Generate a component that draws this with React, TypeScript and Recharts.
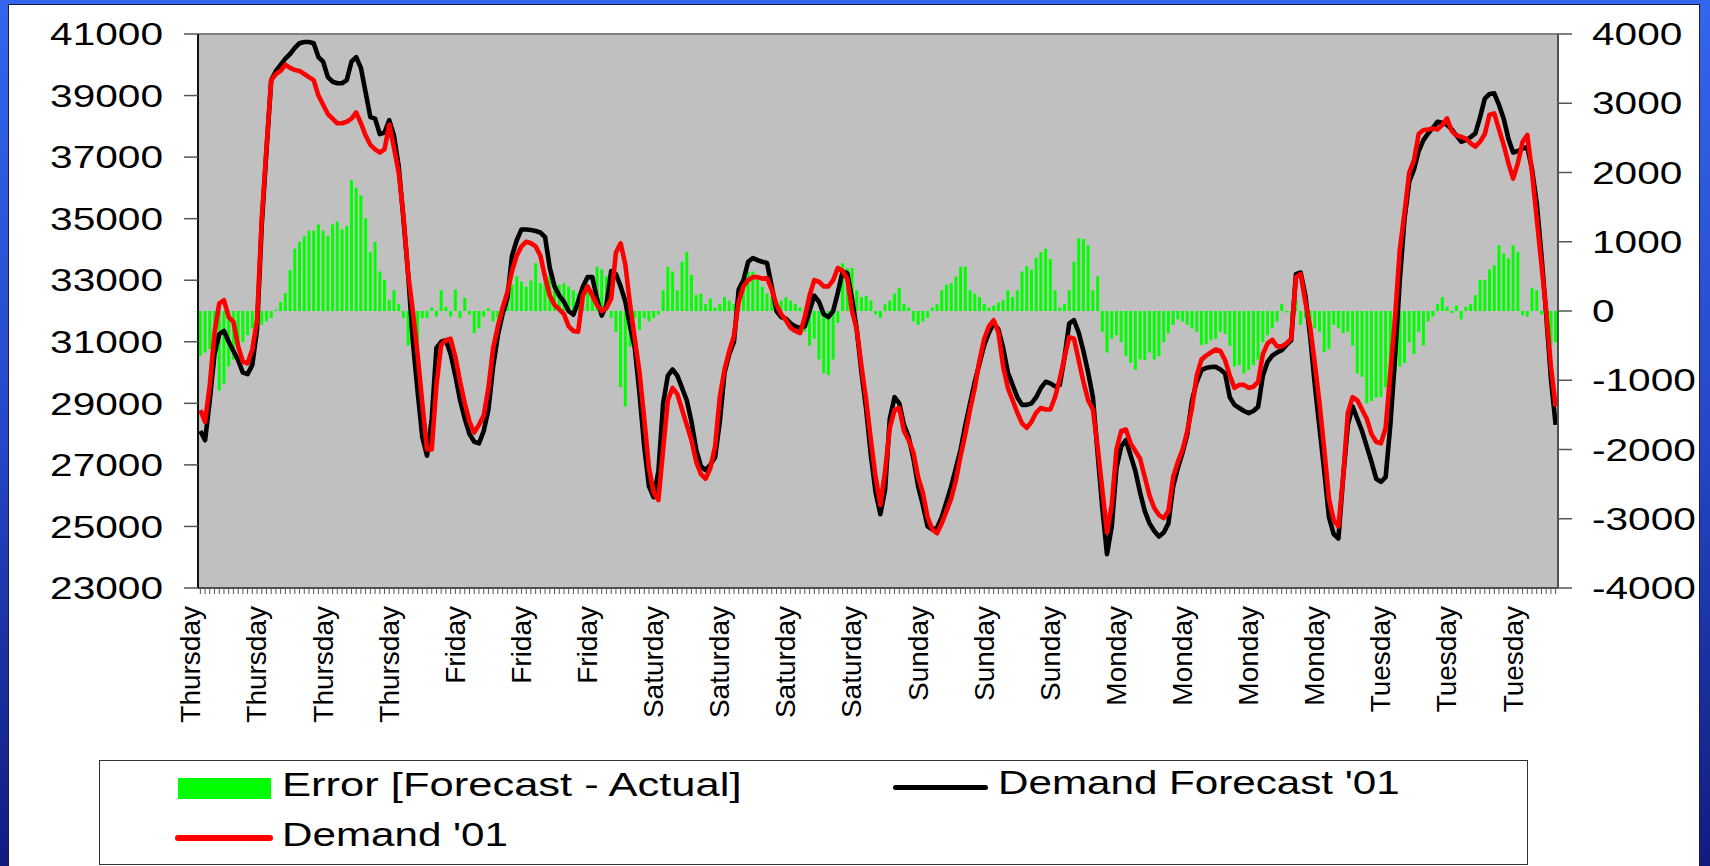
import { ComposedChart, Bar, Line, XAxis, YAxis, CartesianGrid, ReferenceLine } from "recharts";

// half-hourly slots, Thursday 00:00 -> Tuesday 23:30, a label every 7 hours
const tickLabels = [
  "Thursday", "Thursday", "Thursday", "Thursday",
  "Friday", "Friday", "Friday",
  "Saturday", "Saturday", "Saturday", "Saturday",
  "Sunday", "Sunday", "Sunday",
  "Monday", "Monday", "Monday", "Monday",
  "Tuesday", "Tuesday", "Tuesday",
];
const LABEL_STEP = 14;

const leftTicks = [23000, 25000, 27000, 29000, 31000, 33000, 35000, 37000, 39000, 41000];
const rightTicks = [-4000, -3000, -2000, -1000, 0, 1000, 2000, 3000, 4000];

// Demand '01 (MW)
const demand = [
  28780, 28400, 29600, 31300, 32250, 32350, 31800, 31650, 30850, 30350, 30300, 30750,
  31700, 35000, 37300, 39500, 39700, 39800, 40000, 39900, 39830, 39800, 39700, 39600,
  39500, 39000, 38700, 38400, 38250, 38100, 38100, 38150, 38250, 38450, 38100, 37700,
  37400, 37250, 37150, 37250, 38050, 37300, 36500, 35100, 33200, 32000, 30600, 29000,
  27500, 27500, 29600, 30900, 31050, 31100, 30500, 29700, 29000, 28400, 28050, 28300,
  28600, 29500, 30800, 31500, 32100, 32600, 33300, 33800, 34100, 34250, 34200, 34100,
  33800, 33100, 32500, 32200, 32050, 31900, 31500, 31350, 31330, 32500, 32800, 32500,
  32200, 32000, 32100, 32400, 33900, 34200, 33500, 32200, 31100, 30000, 28500, 26900,
  26100, 25860, 27500, 29100, 29500, 29300, 28800, 28300, 27800, 27100, 26700, 26550,
  26900, 27600, 29200, 30100, 30700, 31200, 32300, 32800, 33000, 33100, 33100, 33050,
  33070, 32700, 32200, 31900, 31700, 31450, 31350, 31280, 31800, 32500, 33000, 32950,
  32800, 32800, 33000, 33400, 33300, 33050, 32000, 31400, 30200, 29100, 27800, 26600,
  25700, 26800, 28200, 28780, 28850, 28100, 27800, 27400, 26600, 26100, 25300, 24900,
  24780, 25100, 25500, 25900, 26500, 27300, 28000, 28800, 29500, 30400, 31100, 31500,
  31700, 31300, 30200, 29500, 29100, 28700, 28350, 28200, 28400, 28700, 28850, 28800,
  28800, 29200, 29800, 30500, 31150, 31100, 30400, 29700, 29100, 28800, 27600, 26200,
  24800, 25700, 27500, 28100, 28150, 27700, 27450, 27200, 26600, 26000, 25600, 25370,
  25270, 25500, 26600, 27100, 27500, 28100, 28850, 29900, 30420, 30550, 30650, 30750,
  30700, 30400, 29900, 29500, 29600, 29600, 29500, 29540, 29700, 30600, 30950, 31060,
  30850, 30850, 30950, 31100, 33100, 33200, 32300, 31500, 30300, 29000, 27500, 25900,
  25200, 25000, 26600, 28700, 29200, 29100, 28800, 28500, 28000, 27750, 27700, 28200,
  30000, 31800, 34000, 35200, 36500, 36900, 37750, 37880, 37900, 37930, 37900, 38050,
  38260, 37850, 37700, 37660, 37600, 37450, 37340, 37500, 37750, 38380, 38420, 37900,
  37400, 36800, 36300, 36800, 37500, 37720, 36500, 35000, 33500, 32000, 30200, 28900,
];

// Demand Forecast '01 (MW)
const forecast = [
  28100, 27800, 29100, 30600, 31250, 31350, 31000, 30700, 30400, 30000, 29950, 30250,
  31400, 34800, 37200, 39500, 39800, 40000, 40200, 40350, 40550, 40700, 40740, 40740,
  40700, 40250, 40100, 39600, 39450, 39400, 39400, 39500, 40100, 40250, 39900, 39100,
  38300, 38250, 37750, 37800, 38200, 37700, 36700, 35000, 33200, 31000, 29400, 27900,
  27300, 28500, 30800, 31000, 31050, 30600, 29900, 29100, 28500, 28000, 27750, 27700,
  28100, 28800, 30200, 31200, 31900, 32400, 33800, 34300, 34650, 34650, 34630, 34600,
  34550, 34400, 33400, 32800, 32500, 32300, 32000, 31880, 32300, 32790, 33100, 33100,
  32400, 31850, 32200, 33300, 33200, 32800, 32300, 31500, 30800, 29300, 27600, 26300,
  25950, 26800, 29000, 29900, 30100, 29900, 29500, 29100, 28400, 27500, 26950, 26830,
  27000, 27250, 28400, 30000, 30600, 31000, 32700, 33000, 33600, 33720, 33650, 33600,
  33560, 32800, 32000, 31800, 31750, 31600, 31500, 31450, 31500, 32000, 32500, 32300,
  31900, 31800, 32000, 32600, 33280, 33230, 32400, 31400, 30000, 28800, 27300, 26100,
  25400, 26200, 28500, 29200, 29000, 28300, 27900, 27200, 26300, 25700, 25000, 24900,
  24950, 25300, 25800, 26300, 26900, 27500, 28300, 29000, 29700, 30300, 30900, 31300,
  31600, 31400, 30800, 30000, 29600, 29200, 28950, 28950, 29000, 29200, 29500, 29700,
  29650, 29550, 29600, 30500, 31600, 31700, 31300, 30700, 30000, 29200, 27400, 25600,
  24100, 25000, 26900, 27600, 27800, 27300, 26800, 26100, 25500, 25100, 24850, 24670,
  24800, 25100, 26300, 26900, 27400, 28000, 29100, 29700, 30080, 30150, 30180, 30190,
  30100, 29970, 29200, 28950, 28850, 28750, 28680, 28750, 28890, 29900, 30350, 30550,
  30650, 30730, 30900, 31050, 33200, 33250, 32500, 31200, 29600, 28200, 26800, 25300,
  24750, 24610, 26600, 28300, 28900, 28500, 28100, 27600, 27100, 26550, 26450, 26600,
  28300, 30500, 33000, 35000, 36200, 36600, 37200, 37550, 37770, 37950, 38150, 38120,
  38050, 37900, 37700, 37500, 37550, 37650, 37770, 38300, 38900, 39050, 39070, 38700,
  38250, 37600, 37150, 37200, 37280, 37330, 36600, 35500, 33800, 31900, 29800, 28300,
];

// Error [Forecast - Actual] (MW, right axis)
const error = [
  -650, -600, -550, -800, -1150, -1050, -800, -700, -550, -450, -350, -250,
  -400, -200, -150, -100, 20, 130, 260, 590, 900, 1000, 1080, 1160,
  1160, 1250, 1160, 1080, 1250, 1290, 1180, 1230, 1890, 1780, 1670, 1340,
  850, 1000, 570, 450, 160, 300, 100, -100, -500, -300, -450, -100,
  -100, 50, -80, 300, 60, -80, 310, -100, 190, -50, -320, -250,
  -80, 40, -150, -100, -40, 200, 380, 500, 425, 350, 440, 690,
  400, 500, 520, 400, 380, 400, 350, 300, 250, 350, 300, 250,
  640, 600, 500, -100, -300, -1100, -1380, -515, -100, -275, -100, -150,
  -100, -50, 300, 640, 570, 300, 710, 850, 520, 230, 250, 100,
  180, 50, 100, 200, 150, 100, 350, 450, 570, 570, 450, 350,
  250, 200, 100, 150, 200, 150, 100, 50, -300, -500, -400, -700,
  -900, -925, -700, -170, 690, 620, 620, 300, 200, 220, 150, -50,
  -100, 100, 150, 250, 330, 100, 50, -150, -200, -150, -100, 50,
  100, 300, 380, 400, 495, 640, 640, 300, 250, 200, 100, 50,
  80, 120, 160, 300, 200, 300, 570, 650, 600, 765, 850, 900,
  750, 300, 50, 100, 300, 710, 1050, 1040, 950, 300, 500, -300,
  -600, -400, -350, -450, -650, -750, -850, -700, -710, -600, -700, -650,
  -450, -320, -200, -120, -150, -200, -250, -300, -490, -480, -420, -400,
  -300, -330, -500, -800, -780, -900, -850, -780, -700, -450, -350, -250,
  -150, 100, -20, -50, 150, -200, -100, -230, -250, -300, -590, -550,
  -200, -250, -320, -300, -500, -900, -950, -1330, -1300, -1250, -1240, -1100,
  -1020, -900, -800, -750, -450, -620, -300, -500, -150, -80, 100, 200,
  60, -30, 80, -120, 60, 100, 230, 450, 450, 600, 660, 950,
  830, 760, 950, 850, -60, -80, 330, 300, -50, -250, -500, -450,
];

const data = demand.map((d, i) => ({
  slot: i,
  demand: d,
  forecast: forecast[i],
  error: error[i],
}));

const font = '"Liberation Sans", Arial, Helvetica, sans-serif';

function LeftTick({ x, y, payload }: any) {
  return (
    <g transform={`translate(${x},${y}) scale(1.31,1)`}>
      <text x={0} y={0} dy="0.36em" textAnchor="end" fontFamily={font} fontSize={31} fill="#000">
        {payload.value}
      </text>
    </g>
  );
}

function RightTick({ x, y, payload }: any) {
  return (
    <g transform={`translate(${x},${y}) scale(1.31,1)`}>
      <text x={0} y={0} dy="0.36em" textAnchor="start" fontFamily={font} fontSize={31} fill="#000">
        {payload.value}
      </text>
    </g>
  );
}

function DayTick({ x, y, payload }: any) {
  const i = Number(payload.value);
  if (i % LABEL_STEP !== 0) return <g />;
  return (
    <g transform={`translate(${x},${y}) rotate(-90)`}>
      <text x={0} y={0} textAnchor="end" fontFamily={font} fontSize={28} fill="#000">
        {tickLabels[i / LABEL_STEP]}
      </text>
    </g>
  );
}

const legendText: React.CSSProperties = {
  position: "absolute",
  fontFamily: font,
  fontSize: 34,
  lineHeight: "34px",
  color: "#000",
  whiteSpace: "nowrap",
  transform: "scaleX(1.24)",
  transformOrigin: "left top",
};

export default function App() {
  return (
    <div
      style={{
        position: "fixed",
        left: 0,
        top: 0,
        width: 1710,
        height: 866,
        overflow: "hidden",
        background: "linear-gradient(to bottom, #3366ee 0%, #2648c8 50%, #111c80 100%)",
      }}
    >
      <div
        style={{
          position: "absolute",
          left: 8,
          top: 4,
          width: 1692,
          height: 880,
          background: "#fff",
          border: "1px solid #1a1a40",
          boxSizing: "border-box",
        }}
      />
      <div style={{ position: "absolute", left: 0, top: 0 }}>
        <ComposedChart
          width={1710}
          height={760}
          data={data}
          margin={{ top: 34, right: 22, bottom: 22, left: 48 }}
          barCategoryGap="18%"
        >
          <CartesianGrid fill="#c0c0c0" horizontal={false} vertical={false} />
          <XAxis
            dataKey="slot"
            interval={0}
            height={150}
            tick={<DayTick />}
            tickSize={6}
            tickMargin={12}
            tickLine={{ stroke: "#555", strokeWidth: 1 }}
            axisLine={{ stroke: "#505050", strokeWidth: 2 }}
          />
          <YAxis
            yAxisId="left"
            orientation="left"
            width={150}
            domain={[23000, 41000]}
            ticks={leftTicks}
            interval={0}
            tick={<LeftTick />}
            tickSize={14}
            tickMargin={21}
            tickLine={{ stroke: "#555", strokeWidth: 1.5 }}
            axisLine={{ stroke: "#111", strokeWidth: 2 }}
          />
          <YAxis
            yAxisId="right"
            orientation="right"
            width={130}
            domain={[-4000, 4000]}
            ticks={rightTicks}
            interval={0}
            tick={<RightTick />}
            tickSize={14}
            tickMargin={20}
            tickLine={{ stroke: "#555", strokeWidth: 1.5 }}
            axisLine={{ stroke: "#505050", strokeWidth: 2 }}
          />
          <ReferenceLine yAxisId="left" y={41000} stroke="#808080" strokeWidth={2} />
          <Bar yAxisId="right" dataKey="error" fill="#00ff00" isAnimationActive={false} />
          <Line
            yAxisId="left"
            type="linear"
            dataKey="forecast"
            stroke="#000"
            strokeWidth={4.6}
            strokeLinejoin="round"
            dot={false}
            activeDot={false}
            isAnimationActive={false}
          />
          <Line
            yAxisId="left"
            type="linear"
            dataKey="demand"
            stroke="#ff0000"
            strokeWidth={4.6}
            strokeLinejoin="round"
            dot={false}
            activeDot={false}
            isAnimationActive={false}
          />
        </ComposedChart>
      </div>

      {/* legend */}
      <div
        style={{
          position: "absolute",
          left: 99,
          top: 760,
          width: 1429,
          height: 105,
          border: "1.5px solid #333",
          background: "#fff",
          boxSizing: "border-box",
        }}
      />
      <div style={{ position: "absolute", left: 178, top: 778, width: 93, height: 21, background: "#00ff00" }} />
      <span style={{ ...legendText, left: 282, top: 767, transform: "scaleX(1.28)" }}>Error [Forecast - Actual]</span>
      <div style={{ position: "absolute", left: 893, top: 785, width: 95, height: 5, background: "#000", borderRadius: 3 }} />
      <span style={{ ...legendText, left: 998, top: 765 }}>Demand Forecast '01</span>
      <div style={{ position: "absolute", left: 175, top: 835, width: 98, height: 6, background: "#ff0000", borderRadius: 3 }} />
      <span style={{ ...legendText, left: 282, top: 817 }}>Demand '01</span>
    </div>
  );
}
